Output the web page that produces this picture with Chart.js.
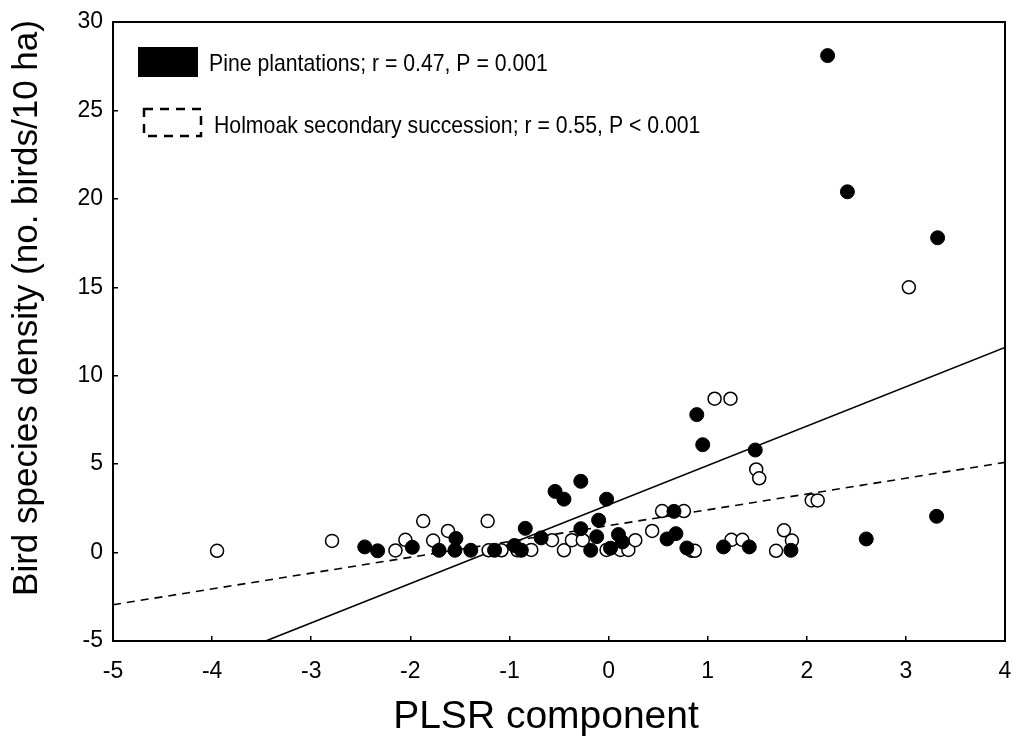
<!DOCTYPE html>
<html>
<head>
<meta charset="utf-8">
<script src="https://cdn.jsdelivr.net/npm/chart.js@4.4.1/dist/chart.umd.min.js"></script>
<style>
  html, body { margin: 0; padding: 0; background: #fff; }
  #wrap { width: 1020px; height: 749px; }
</style>
</head>
<body>
<div id="wrap"><canvas id="plsrChart" width="1020" height="749"></canvas></div>
<script>
// pine plantations (filled circles)
const pineX = [2.21, 2.41, 3.32, 0.89, 0.95, 1.48, 3.31, 2.60, 0.66, 0.59, 0.68, 0.79, 1.16, 1.42, 1.84,
  -2.46, -2.33, -1.98, -1.71, -1.54, -1.55, -1.39, -1.15, -0.95, -0.88, -0.84, -0.68, -0.54, -0.45,
  -0.28, -0.28, -0.18, -0.12, -0.10, -0.02, 0.02, 0.10, 0.14];
const pineY = [28.1, 20.4, 17.8, 7.8, 6.1, 5.8, 2.05, 0.77, 2.33, 0.77, 1.07, 0.26, 0.32, 0.32, 0.13,
  0.32, 0.10, 0.30, 0.13, 0.80, 0.13, 0.13, 0.13, 0.40, 0.13, 1.37, 0.83, 3.46, 3.02,
  4.03, 1.35, 0.13, 0.90, 1.83, 3.02, 0.25, 1.02, 0.60];

// holmoak secondary succession (open circles)
const oakX = [3.03, 1.07, 1.23, 1.49, 1.52, 2.05, 2.11, 0.44, 0.54, 0.76, 0.84, 0.87, 1.24, 1.35, 1.77, 1.85, 1.69,
  -3.95, -2.79, -2.15, -2.05, -1.87, -1.77, -1.62, -1.22, -1.21, -1.08, -0.92, -0.78, -0.57, -0.45, -0.37,
  -0.26, -0.02, 0.12, 0.20, 0.27];
const oakY = [15.0, 8.7, 8.7, 4.7, 4.2, 2.95, 2.95, 1.22, 2.35, 2.35, 0.10, 0.10, 0.72, 0.72, 1.26, 0.68, 0.10,
  0.10, 0.66, 0.12, 0.72, 1.78, 0.68, 1.22, 1.78, 0.13, 0.13, 0.13, 0.15, 0.70, 0.13, 0.70,
  0.70, 0.15, 0.15, 0.15, 0.70];

// regression lines (end points)
const pineFitX = [-3.46, 4];
const pineFitY = [-5, 11.6];
const oakFitX = [-5, 4];
const oakFitY = [-2.95, 5.1];

const legendLabels = ['Pine plantations; r = 0.47, P = 0.001', 'Holmoak secondary succession; r = 0.55, P < 0.001'];
const xTitle = 'PLSR component';
const yTitle = 'Bird species density (no. birds/10 ha)';

const toPoints = (xs, ys) => xs.map((x, i) => ({ x, y: ys[i] }));
const font = "'Liberation Sans', Arial, sans-serif";

// frame round the plot area, legend and axis titles
const framePlugin = {
  id: 'frame',
  afterDraw(chart) {
    const { ctx, chartArea: a } = chart;
    ctx.save();
    ctx.strokeStyle = '#000';
    ctx.lineWidth = 2;
    ctx.strokeRect(a.left, a.top, a.right - a.left, a.bottom - a.top);

    // legend
    ctx.fillStyle = '#000';
    ctx.fillRect(138, 47, 60, 30);
    ctx.setLineDash([9, 7]);
    ctx.lineWidth = 2.5;
    ctx.strokeRect(144, 109, 57, 27);
    ctx.setLineDash([]);
    ctx.font = '24px ' + font;
    ctx.textBaseline = 'middle';
    ctx.save();
    ctx.scale(0.885, 1);
    ctx.fillText(legendLabels[0], 209 / 0.885, 64);
    ctx.fillText(legendLabels[1], 214 / 0.885, 126);
    ctx.restore();

    // axis titles
    ctx.textAlign = 'center';
    ctx.font = '39px ' + font;
    ctx.fillText(xTitle, 546, 717);
    ctx.translate(27, 308);
    ctx.rotate(-Math.PI / 2);
    ctx.font = '35px ' + font;
    ctx.fillText(yTitle, 0, 0);
    ctx.restore();
  }
};

const ctx = document.getElementById('plsrChart').getContext('2d');
const chart = new Chart(ctx, {
  type: 'scatter',
  data: {
    datasets: [
      {
        label: legendLabels[0],
        data: toPoints(pineX, pineY),
        backgroundColor: '#000',
        borderColor: '#000',
        borderWidth: 1,
        pointRadius: 7,
        order: 1
      },
      {
        label: legendLabels[1],
        data: toPoints(oakX, oakY),
        backgroundColor: '#fff',
        borderColor: '#000',
        borderWidth: 1.5,
        pointRadius: 6.5,
        order: 2
      },
      {
        type: 'line',
        data: toPoints(pineFitX, pineFitY),
        borderColor: '#000',
        borderWidth: 1.6,
        pointRadius: 0,
        fill: false,
        order: 3
      },
      {
        type: 'line',
        data: toPoints(oakFitX, oakFitY),
        borderColor: '#000',
        borderWidth: 1.6,
        borderDash: [8, 6],
        pointRadius: 0,
        fill: false,
        order: 4
      }
    ]
  },
  options: {
    responsive: false,
    animation: false,
    events: [],
    layout: { padding: { top: 22, right: 15, left: 0, bottom: 0 } },
    plugins: {
      legend: { display: false },
      tooltip: { enabled: false }
    },
    scales: {
      x: {
        type: 'linear',
        min: -5,
        max: 4,
        afterFit: scale => {
          scale.height = 108;
          scale.paddingLeft = 0;
          scale.paddingRight = 0;
        },
        ticks: { stepSize: 1, color: '#000', font: { family: font, size: 23 }, padding: 22 },
        grid: { drawOnChartArea: false, drawTicks: true, tickLength: -5, color: '#000', lineWidth: 1.5 },
        border: { color: '#000', width: 2 }
      },
      y: {
        type: 'linear',
        min: -5,
        max: 30,
        afterFit: scale => {
          scale.width = 113;
          scale.paddingTop = 0;
          scale.paddingBottom = 0;
        },
        ticks: { stepSize: 5, color: '#000', font: { family: font, size: 23 }, padding: 15 },
        grid: { drawOnChartArea: false, drawTicks: true, tickLength: -5, color: '#000', lineWidth: 1.5 },
        border: { color: '#000', width: 2 }
      }
    }
  },
  plugins: [framePlugin]
});
</script>
</body>
</html>
